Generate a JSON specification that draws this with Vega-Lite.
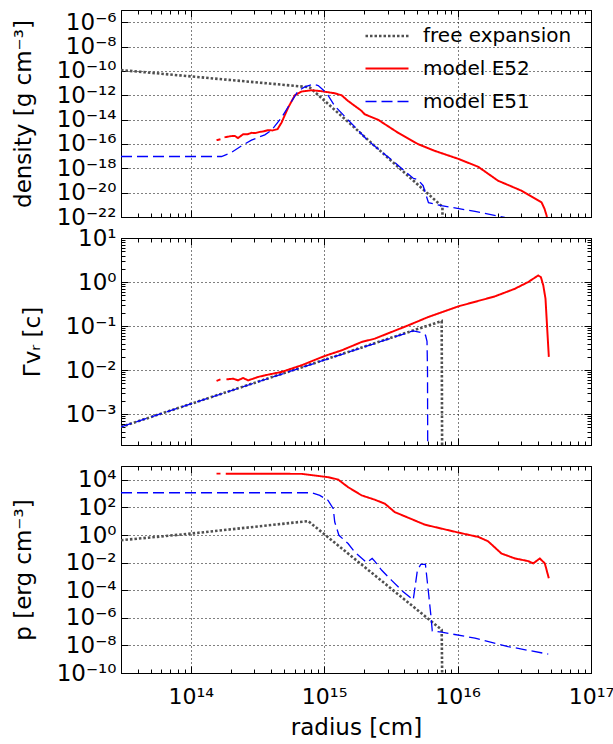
{
  "$schema": "https://vega.github.io/schema/vega-lite/v6.json",
  "background": "white",
  "padding": {"left": 11, "top": 9, "right": 2, "bottom": 0},
  "datasets": {
    "dens": [
      {"s": "free expansion", "g": 1, "r": 3.0e13, "v": 1.17e-10},
      {"s": "free expansion", "g": 1, "r": 7.76e14, "v": 4.57e-12},
      {"s": "free expansion", "g": 1, "r": 7.7e15, "v": 6.9e-22},
      {"s": "free expansion", "g": 1, "r": 7.72e15, "v": 1e-30},
      {"s": "model E52", "g": 1, "r": 1.56e14, "v": 2.04e-16},
      {"s": "model E52", "g": 1, "r": 1.67e14, "v": 2.45e-16},
      {"s": "model E52", "g": 2, "r": 1.79e14, "v": 3.47e-16},
      {"s": "model E52", "g": 2, "r": 1.99e14, "v": 4.37e-16},
      {"s": "model E52", "g": 2, "r": 2.14e14, "v": 4.57e-16},
      {"s": "model E52", "g": 2, "r": 2.26e14, "v": 3.02e-16},
      {"s": "model E52", "g": 2, "r": 2.47e14, "v": 6.31e-16},
      {"s": "model E52", "g": 2, "r": 2.66e14, "v": 6.17e-16},
      {"s": "model E52", "g": 2, "r": 2.85e14, "v": 8.13e-16},
      {"s": "model E52", "g": 2, "r": 3.05e14, "v": 7.76e-16},
      {"s": "model E52", "g": 2, "r": 3.29e14, "v": 9.77e-16},
      {"s": "model E52", "g": 2, "r": 3.51e14, "v": 1.07e-15},
      {"s": "model E52", "g": 2, "r": 3.80e14, "v": 1.35e-15},
      {"s": "model E52", "g": 2, "r": 4.09e14, "v": 1.29e-15},
      {"s": "model E52", "g": 2, "r": 4.47e14, "v": 1.62e-15},
      {"s": "model E52", "g": 2, "r": 4.79e14, "v": 5.62e-15},
      {"s": "model E52", "g": 2, "r": 5.37e14, "v": 9.55e-14},
      {"s": "model E52", "g": 2, "r": 6.03e14, "v": 1.0e-12},
      {"s": "model E52", "g": 2, "r": 6.76e14, "v": 2.0e-12},
      {"s": "model E52", "g": 2, "r": 8.04e14, "v": 2.57e-12},
      {"s": "model E52", "g": 2, "r": 9.55e14, "v": 2.14e-12},
      {"s": "model E52", "g": 2, "r": 1.20e15, "v": 1.45e-12},
      {"s": "model E52", "g": 2, "r": 1.35e15, "v": 1.0e-12},
      {"s": "model E52", "g": 2, "r": 1.51e15, "v": 3.39e-13},
      {"s": "model E52", "g": 2, "r": 1.91e15, "v": 5.13e-14},
      {"s": "model E52", "g": 2, "r": 2.01e15, "v": 2.75e-14},
      {"s": "model E52", "g": 2, "r": 2.54e15, "v": 9.55e-15},
      {"s": "model E52", "g": 2, "r": 3.59e15, "v": 8.13e-16},
      {"s": "model E52", "g": 2, "r": 5.07e15, "v": 9.55e-17},
      {"s": "model E52", "g": 2, "r": 6.75e15, "v": 2.69e-17},
      {"s": "model E52", "g": 2, "r": 1.01e16, "v": 6.03e-18},
      {"s": "model E52", "g": 2, "r": 1.43e16, "v": 1.32e-18},
      {"s": "model E52", "g": 2, "r": 2.01e16, "v": 9.55e-20},
      {"s": "model E52", "g": 2, "r": 3.01e16, "v": 1.45e-20},
      {"s": "model E52", "g": 2, "r": 4.26e16, "v": 1.58e-21},
      {"s": "model E52", "g": 2, "r": 4.48e16, "v": 4.79e-22},
      {"s": "model E52", "g": 2, "r": 4.65e16, "v": 1.29e-22},
      {"s": "model E52", "g": 2, "r": 4.73e16, "v": 3.39e-23},
      {"s": "model E51", "g": 1, "r": 3.0e13, "v": 9.33e-18},
      {"s": "model E51", "g": 1, "r": 1.70e14, "v": 9.33e-18},
      {"s": "model E51", "g": 1, "r": 2.02e14, "v": 2.0e-17},
      {"s": "model E51", "g": 1, "r": 2.40e14, "v": 6.92e-17},
      {"s": "model E51", "g": 1, "r": 2.85e14, "v": 2.04e-16},
      {"s": "model E51", "g": 1, "r": 3.59e14, "v": 5.62e-16},
      {"s": "model E51", "g": 1, "r": 4.03e14, "v": 1.35e-15},
      {"s": "model E51", "g": 1, "r": 4.79e14, "v": 1.45e-14},
      {"s": "model E51", "g": 1, "r": 5.52e14, "v": 1.82e-13},
      {"s": "model E51", "g": 1, "r": 6.38e14, "v": 2.24e-12},
      {"s": "model E51", "g": 1, "r": 7.16e14, "v": 4.79e-12},
      {"s": "model E51", "g": 1, "r": 8.28e14, "v": 7.94e-12},
      {"s": "model E51", "g": 1, "r": 9.02e14, "v": 6.31e-12},
      {"s": "model E51", "g": 1, "r": 9.84e14, "v": 2.69e-12},
      {"s": "model E51", "g": 1, "r": 1.07e15, "v": 9.55e-13},
      {"s": "model E51", "g": 1, "r": 1.20e15, "v": 1.32e-13},
      {"s": "model E51", "g": 1, "r": 1.39e15, "v": 2.45e-14},
      {"s": "model E51", "g": 1, "r": 2.14e15, "v": 1.78e-16},
      {"s": "model E51", "g": 1, "r": 3.38e15, "v": 3.02e-18},
      {"s": "model E51", "g": 1, "r": 4.65e15, "v": 1.51e-19},
      {"s": "model E51", "g": 1, "r": 5.04e15, "v": 1.15e-19},
      {"s": "model E51", "g": 1, "r": 5.52e15, "v": 3.72e-20},
      {"s": "model E51", "g": 1, "r": 6.05e15, "v": 1.48e-21},
      {"s": "model E51", "g": 1, "r": 7.57e15, "v": 8.51e-22},
      {"s": "model E51", "g": 1, "r": 1.35e16, "v": 2.88e-22},
      {"s": "model E51", "g": 1, "r": 2.26e16, "v": 9.33e-23}
    ],
    "vel": [
      {"s": "free expansion", "g": 1, "r": 3.0e13, "v": 5.15e-4},
      {"s": "free expansion", "g": 1, "r": 7.6e15, "v": 0.13},
      {"s": "free expansion", "g": 1, "r": 7.7e15, "v": 1e-6},
      {"s": "model E52", "g": 1, "r": 1.56e14, "v": 5.69e-3},
      {"s": "model E52", "g": 1, "r": 1.67e14, "v": 6.18e-3},
      {"s": "model E52", "g": 2, "r": 1.85e14, "v": 6.18e-3},
      {"s": "model E52", "g": 2, "r": 2.08e14, "v": 6.41e-3},
      {"s": "model E52", "g": 2, "r": 2.26e14, "v": 5.87e-3},
      {"s": "model E52", "g": 2, "r": 2.47e14, "v": 6.65e-3},
      {"s": "model E52", "g": 2, "r": 2.69e14, "v": 5.87e-3},
      {"s": "model E52", "g": 2, "r": 2.94e14, "v": 6.41e-3},
      {"s": "model E52", "g": 2, "r": 3.20e14, "v": 7.01e-3},
      {"s": "model E52", "g": 2, "r": 3.59e14, "v": 7.62e-3},
      {"s": "model E52", "g": 2, "r": 4.03e14, "v": 8.2e-3},
      {"s": "model E52", "g": 2, "r": 4.79e14, "v": 9.1e-3},
      {"s": "model E52", "g": 2, "r": 6.76e14, "v": 1.29e-2},
      {"s": "model E52", "g": 2, "r": 1.01e15, "v": 2.1e-2},
      {"s": "model E52", "g": 2, "r": 1.35e15, "v": 2.81e-2},
      {"s": "model E52", "g": 2, "r": 1.91e15, "v": 4.36e-2},
      {"s": "model E52", "g": 2, "r": 2.39e15, "v": 5.18e-2},
      {"s": "model E52", "g": 2, "r": 4.27e15, "v": 0.104},
      {"s": "model E52", "g": 2, "r": 6.03e15, "v": 0.161},
      {"s": "model E52", "g": 2, "r": 1.01e16, "v": 0.28},
      {"s": "model E52", "g": 2, "r": 1.90e16, "v": 0.472},
      {"s": "model E52", "g": 2, "r": 2.69e16, "v": 0.705},
      {"s": "model E52", "g": 2, "r": 3.38e16, "v": 1.0},
      {"s": "model E52", "g": 2, "r": 4.02e16, "v": 1.41},
      {"s": "model E52", "g": 2, "r": 4.21e16, "v": 1.30},
      {"s": "model E52", "g": 2, "r": 4.39e16, "v": 0.837},
      {"s": "model E52", "g": 2, "r": 4.56e16, "v": 0.418},
      {"s": "model E52", "g": 2, "r": 4.65e16, "v": 0.147},
      {"s": "model E52", "g": 2, "r": 4.83e16, "v": 0.02},
      {"s": "model E51", "g": 1, "r": 3.0e13, "v": 5.15e-4},
      {"s": "model E51", "g": 1, "r": 4.65e15, "v": 0.078},
      {"s": "model E51", "g": 1, "r": 5.36e15, "v": 0.071},
      {"s": "model E51", "g": 1, "r": 5.75e15, "v": 0.062},
      {"s": "model E51", "g": 1, "r": 5.9e15, "v": 0.045},
      {"s": "model E51", "g": 1, "r": 5.95e15, "v": 0.01},
      {"s": "model E51", "g": 1, "r": 6.0e15, "v": 1e-6}
    ],
    "pres": [
      {"s": "free expansion", "g": 1, "r": 3.0e13, "v": 0.417},
      {"s": "free expansion", "g": 1, "r": 1.0e14, "v": 1.26},
      {"s": "free expansion", "g": 1, "r": 7.59e14, "v": 10.2},
      {"s": "free expansion", "g": 1, "r": 7.6e15, "v": 1.35e-7},
      {"s": "free expansion", "g": 1, "r": 7.7e15, "v": 1e-12},
      {"s": "model E52", "g": 1, "r": 1.56e14, "v": 2.8e4},
      {"s": "model E52", "g": 1, "r": 1.67e14, "v": 2.8e4},
      {"s": "model E52", "g": 2, "r": 1.83e14, "v": 2.75e4},
      {"s": "model E52", "g": 2, "r": 6.76e14, "v": 2.69e4},
      {"s": "model E52", "g": 2, "r": 8.51e14, "v": 2.04e4},
      {"s": "model E52", "g": 2, "r": 1.07e15, "v": 1.55e4},
      {"s": "model E52", "g": 2, "r": 1.27e15, "v": 1.05e4},
      {"s": "model E52", "g": 2, "r": 1.51e15, "v": 2.95e3},
      {"s": "model E52", "g": 2, "r": 1.91e15, "v": 741},
      {"s": "model E52", "g": 2, "r": 2.39e15, "v": 363},
      {"s": "model E52", "g": 2, "r": 2.85e15, "v": 186},
      {"s": "model E52", "g": 2, "r": 3.38e15, "v": 45.7},
      {"s": "model E52", "g": 2, "r": 5.68e15, "v": 5.62},
      {"s": "model E52", "g": 2, "r": 1.01e16, "v": 1.51},
      {"s": "model E52", "g": 2, "r": 1.43e16, "v": 0.724},
      {"s": "model E52", "g": 2, "r": 1.69e16, "v": 0.355},
      {"s": "model E52", "g": 2, "r": 2.13e16, "v": 0.0457},
      {"s": "model E52", "g": 2, "r": 2.69e16, "v": 0.02},
      {"s": "model E52", "g": 2, "r": 3.38e16, "v": 0.0129},
      {"s": "model E52", "g": 2, "r": 3.69e16, "v": 8.7e-3},
      {"s": "model E52", "g": 2, "r": 4.13e16, "v": 0.02},
      {"s": "model E52", "g": 2, "r": 4.51e16, "v": 8.7e-3},
      {"s": "model E52", "g": 2, "r": 4.83e16, "v": 7.2e-4},
      {"s": "model E51", "g": 1, "r": 3.0e13, "v": 1150},
      {"s": "model E51", "g": 1, "r": 8.04e14, "v": 1150},
      {"s": "model E51", "g": 1, "r": 9.27e14, "v": 741},
      {"s": "model E51", "g": 1, "r": 1.07e15, "v": 324},
      {"s": "model E51", "g": 1, "r": 1.17e15, "v": 81},
      {"s": "model E51", "g": 1, "r": 1.20e15, "v": 8.7},
      {"s": "model E51", "g": 1, "r": 1.29e15, "v": 0.955},
      {"s": "model E51", "g": 1, "r": 1.51e15, "v": 0.24},
      {"s": "model E51", "g": 1, "r": 1.69e15, "v": 0.06},
      {"s": "model E51", "g": 1, "r": 2.08e15, "v": 0.0102},
      {"s": "model E51", "g": 1, "r": 2.29e15, "v": 0.02},
      {"s": "model E51", "g": 1, "r": 2.39e15, "v": 0.0129},
      {"s": "model E51", "g": 1, "r": 2.69e15, "v": 2.88e-3},
      {"s": "model E51", "g": 1, "r": 3.19e15, "v": 5.37e-4},
      {"s": "model E51", "g": 1, "r": 3.91e15, "v": 7.76e-5},
      {"s": "model E51", "g": 1, "r": 4.65e15, "v": 1.95e-5},
      {"s": "model E51", "g": 1, "r": 5.0e15, "v": 2.88e-3},
      {"s": "model E51", "g": 1, "r": 5.30e15, "v": 7.4e-3},
      {"s": "model E51", "g": 1, "r": 5.74e15, "v": 7.4e-3},
      {"s": "model E51", "g": 1, "r": 6.08e15, "v": 4.47e-5},
      {"s": "model E51", "g": 1, "r": 6.30e15, "v": 1.62e-6},
      {"s": "model E51", "g": 1, "r": 6.46e15, "v": 1.12e-7},
      {"s": "model E51", "g": 1, "r": 7.57e15, "v": 9.1e-8},
      {"s": "model E51", "g": 1, "r": 1.35e16, "v": 3.39e-8},
      {"s": "model E51", "g": 1, "r": 2.39e16, "v": 8.3e-9},
      {"s": "model E51", "g": 1, "r": 4.78e16, "v": 2.34e-9}
    ]
  },
  "vconcat": [
    {
      "width": 470, "height": 207,
      "data": {"name": "dens"},
      "layer": [
        {
          "mark": {"type": "line", "clip": true},
          "encoding": {
            "x": {"field": "r", "type": "quantitative", "scale": {"type": "log", "domain": [3e13, 1e17], "nice": false},
              "axis": {"orient": "bottom", "title": null, "labels": false, "grid": true,
                "values": [4e13,5e13,6e13,7e13,8e13,9e13,1e14,2e14,3e14,4e14,5e14,6e14,7e14,8e14,9e14,1e15,2e15,3e15,4e15,5e15,6e15,7e15,8e15,9e15,1e16,2e16,3e16,4e16,5e16,6e16,7e16,8e16,9e16,1e17],
                "gridOpacity": {"condition": {"test": "abs(log(datum.value)/LN10 - round(log(datum.value)/LN10)) < 1e-6", "value": 1}, "value": 0},
                "tickSize": {"condition": {"test": "abs(log(datum.value)/LN10 - round(log(datum.value)/LN10)) < 1e-6", "value": -7}, "value": -4}}},
            "y": {"field": "v", "type": "quantitative", "scale": {"type": "log", "domain": [1e-22, 1e-5], "nice": false},
              "axis": {"orient": "left", "title": "density [g cm⁻³]", "grid": true, "tickSize": -7, "labelPadding": 12, "titlePadding": 21,
                "values": [1e-22,1e-20,1e-18,1e-16,1e-14,1e-12,1e-10,1e-8,1e-6],
                "labelExpr": "'10' + replace(replace(replace(replace(replace(replace(replace(replace(replace(replace(replace(toString(round(log(datum.value)/LN10)),regexp('-','g'),'⁻'),regexp('0','g'),'⁰'),regexp('1','g'),'¹'),regexp('2','g'),'²'),regexp('3','g'),'³'),regexp('4','g'),'⁴'),regexp('5','g'),'⁵'),regexp('6','g'),'⁶'),regexp('7','g'),'⁷'),regexp('8','g'),'⁸'),regexp('9','g'),'⁹')"}},
            "color": {"field": "s", "type": "nominal",
              "scale": {"domain": ["free expansion", "model E52", "model E51"], "range": ["#505050", "#ff0000", "#0000ff"]},
              "legend": {"orient": "none", "legendX": 243, "legendY": 3, "title": null, "padding": 0, "labelFont": "DejaVu Sans", "labelFontSize": 20, "labelColor": "black", "symbolType": "stroke", "symbolSize": 1849, "labelOffset": 13, "rowPadding": -1}},
            "strokeDash": {"field": "s", "type": "nominal",
              "scale": {"domain": ["free expansion", "model E52", "model E51"], "range": [[2.5, 2], [1, 0], [11, 5]]}},
            "strokeWidth": {"field": "s", "type": "nominal",
              "scale": {"domain": ["free expansion", "model E52", "model E51"], "range": [2.6, 1.3, 1.8]}},
            "detail": {"field": "g", "type": "nominal"}
          }
        },
        {
          "mark": {"type": "line", "clip": true, "opacity": 0},
          "encoding": {
            "x": {"field": "r", "type": "quantitative", "scale": {"type": "log", "domain": [3e13, 1e17], "nice": false},
              "axis": {"orient": "top", "title": null, "labels": false, "grid": false,
                "values": [4e13,5e13,6e13,7e13,8e13,9e13,1e14,2e14,3e14,4e14,5e14,6e14,7e14,8e14,9e14,1e15,2e15,3e15,4e15,5e15,6e15,7e15,8e15,9e15,1e16,2e16,3e16,4e16,5e16,6e16,7e16,8e16,9e16,1e17],
                "tickSize": {"condition": {"test": "abs(log(datum.value)/LN10 - round(log(datum.value)/LN10)) < 1e-6", "value": -7}, "value": -4}}},
            "y": {"field": "v", "type": "quantitative", "scale": {"type": "log", "domain": [1e-22, 1e-5], "nice": false},
              "axis": {"orient": "right", "title": null, "labels": false, "grid": false, "tickSize": -7,
                "values": [1e-22,1e-20,1e-18,1e-16,1e-14,1e-12,1e-10,1e-8,1e-6]}}
          }
        }
      ],
      "resolve": {"axis": {"x": "independent", "y": "independent"}}
    },
    {
      "width": 470, "height": 207,
      "data": {"name": "vel"},
      "layer": [
        {
          "mark": {"type": "line", "clip": true},
          "encoding": {
            "x": {"field": "r", "type": "quantitative", "scale": {"type": "log", "domain": [3e13, 1e17], "nice": false},
              "axis": {"orient": "bottom", "title": null, "labels": false, "grid": true,
                "values": [4e13,5e13,6e13,7e13,8e13,9e13,1e14,2e14,3e14,4e14,5e14,6e14,7e14,8e14,9e14,1e15,2e15,3e15,4e15,5e15,6e15,7e15,8e15,9e15,1e16,2e16,3e16,4e16,5e16,6e16,7e16,8e16,9e16,1e17],
                "gridOpacity": {"condition": {"test": "abs(log(datum.value)/LN10 - round(log(datum.value)/LN10)) < 1e-6", "value": 1}, "value": 0},
                "tickSize": {"condition": {"test": "abs(log(datum.value)/LN10 - round(log(datum.value)/LN10)) < 1e-6", "value": -7}, "value": -4}}},
            "y": {"field": "v", "type": "quantitative", "scale": {"type": "log", "domain": [2e-4, 10], "nice": false},
              "axis": {"orient": "left", "title": "Γvᵣ [c]", "grid": true, "labelPadding": 12, "titlePadding": 21,
                "values": [2e-4,3e-4,4e-4,5e-4,6e-4,7e-4,8e-4,9e-4,1e-3,2e-3,3e-3,4e-3,5e-3,6e-3,7e-3,8e-3,9e-3,1e-2,2e-2,3e-2,4e-2,5e-2,6e-2,7e-2,8e-2,9e-2,0.1,0.2,0.3,0.4,0.5,0.6,0.7,0.8,0.9,1,2,3,4,5,6,7,8,9,10],
                "gridOpacity": {"condition": {"test": "abs(log(datum.value)/LN10 - round(log(datum.value)/LN10)) < 1e-6", "value": 1}, "value": 0},
                "tickSize": {"condition": {"test": "abs(log(datum.value)/LN10 - round(log(datum.value)/LN10)) < 1e-6", "value": -7}, "value": -4},
                "labelExpr": "abs(log(datum.value)/LN10 - round(log(datum.value)/LN10)) > 1e-6 ? '' : '10' + replace(replace(replace(replace(replace(replace(replace(replace(replace(replace(replace(toString(round(log(datum.value)/LN10)),regexp('-','g'),'⁻'),regexp('0','g'),'⁰'),regexp('1','g'),'¹'),regexp('2','g'),'²'),regexp('3','g'),'³'),regexp('4','g'),'⁴'),regexp('5','g'),'⁵'),regexp('6','g'),'⁶'),regexp('7','g'),'⁷'),regexp('8','g'),'⁸'),regexp('9','g'),'⁹')"}},
            "color": {"field": "s", "type": "nominal",
              "scale": {"domain": ["free expansion", "model E52", "model E51"], "range": ["#505050", "#ff0000", "#0000ff"]}, "legend": null},
            "strokeDash": {"field": "s", "type": "nominal",
              "scale": {"domain": ["free expansion", "model E52", "model E51"], "range": [[2.5, 2], [1, 0], [11, 5]]}, "legend": null},
            "strokeWidth": {"field": "s", "type": "nominal",
              "scale": {"domain": ["free expansion", "model E52", "model E51"], "range": [2.6, 1.3, 1.8]}, "legend": null},
            "detail": {"field": "g", "type": "nominal"}
          }
        },
        {
          "mark": {"type": "line", "clip": true, "opacity": 0},
          "encoding": {
            "x": {"field": "r", "type": "quantitative", "scale": {"type": "log", "domain": [3e13, 1e17], "nice": false},
              "axis": {"orient": "top", "title": null, "labels": false, "grid": false,
                "values": [4e13,5e13,6e13,7e13,8e13,9e13,1e14,2e14,3e14,4e14,5e14,6e14,7e14,8e14,9e14,1e15,2e15,3e15,4e15,5e15,6e15,7e15,8e15,9e15,1e16,2e16,3e16,4e16,5e16,6e16,7e16,8e16,9e16,1e17],
                "tickSize": {"condition": {"test": "abs(log(datum.value)/LN10 - round(log(datum.value)/LN10)) < 1e-6", "value": -7}, "value": -4}}},
            "y": {"field": "v", "type": "quantitative", "scale": {"type": "log", "domain": [2e-4, 10], "nice": false},
              "axis": {"orient": "right", "title": null, "labels": false, "grid": false,
                "values": [2e-4,3e-4,4e-4,5e-4,6e-4,7e-4,8e-4,9e-4,1e-3,2e-3,3e-3,4e-3,5e-3,6e-3,7e-3,8e-3,9e-3,1e-2,2e-2,3e-2,4e-2,5e-2,6e-2,7e-2,8e-2,9e-2,0.1,0.2,0.3,0.4,0.5,0.6,0.7,0.8,0.9,1,2,3,4,5,6,7,8,9,10],
                "tickSize": {"condition": {"test": "abs(log(datum.value)/LN10 - round(log(datum.value)/LN10)) < 1e-6", "value": -7}, "value": -4}}}
          }
        }
      ],
      "resolve": {"axis": {"x": "independent", "y": "independent"}}
    },
    {
      "width": 470, "height": 207,
      "data": {"name": "pres"},
      "layer": [
        {
          "mark": {"type": "line", "clip": true},
          "encoding": {
            "x": {"field": "r", "type": "quantitative", "scale": {"type": "log", "domain": [3e13, 1e17], "nice": false},
              "axis": {"orient": "bottom", "title": "radius [cm]", "grid": true, "labelPadding": 20, "titlePadding": 6, "labelFontSize": 22,
                "values": [4e13,5e13,6e13,7e13,8e13,9e13,1e14,2e14,3e14,4e14,5e14,6e14,7e14,8e14,9e14,1e15,2e15,3e15,4e15,5e15,6e15,7e15,8e15,9e15,1e16,2e16,3e16,4e16,5e16,6e16,7e16,8e16,9e16,1e17],
                "gridOpacity": {"condition": {"test": "abs(log(datum.value)/LN10 - round(log(datum.value)/LN10)) < 1e-6", "value": 1}, "value": 0},
                "tickSize": {"condition": {"test": "abs(log(datum.value)/LN10 - round(log(datum.value)/LN10)) < 1e-6", "value": -7}, "value": -4},
                "labelExpr": "abs(log(datum.value)/LN10 - round(log(datum.value)/LN10)) > 1e-6 ? '' : '10' + replace(replace(replace(replace(replace(replace(replace(replace(replace(replace(replace(toString(round(log(datum.value)/LN10)),regexp('-','g'),'⁻'),regexp('0','g'),'⁰'),regexp('1','g'),'¹'),regexp('2','g'),'²'),regexp('3','g'),'³'),regexp('4','g'),'⁴'),regexp('5','g'),'⁵'),regexp('6','g'),'⁶'),regexp('7','g'),'⁷'),regexp('8','g'),'⁸'),regexp('9','g'),'⁹')"}},
            "y": {"field": "v", "type": "quantitative", "scale": {"type": "log", "domain": [1e-10, 1e5], "nice": false},
              "axis": {"orient": "left", "title": "p [erg cm⁻³]", "grid": true, "tickSize": -7, "labelPadding": 12, "titlePadding": 21,
                "values": [1e-10,1e-8,1e-6,1e-4,1e-2,1,100,1e4],
                "labelExpr": "'10' + replace(replace(replace(replace(replace(replace(replace(replace(replace(replace(replace(toString(round(log(datum.value)/LN10)),regexp('-','g'),'⁻'),regexp('0','g'),'⁰'),regexp('1','g'),'¹'),regexp('2','g'),'²'),regexp('3','g'),'³'),regexp('4','g'),'⁴'),regexp('5','g'),'⁵'),regexp('6','g'),'⁶'),regexp('7','g'),'⁷'),regexp('8','g'),'⁸'),regexp('9','g'),'⁹')"}},
            "color": {"field": "s", "type": "nominal",
              "scale": {"domain": ["free expansion", "model E52", "model E51"], "range": ["#505050", "#ff0000", "#0000ff"]}, "legend": null},
            "strokeDash": {"field": "s", "type": "nominal",
              "scale": {"domain": ["free expansion", "model E52", "model E51"], "range": [[2.5, 2], [1, 0], [11, 5]]}, "legend": null},
            "strokeWidth": {"field": "s", "type": "nominal",
              "scale": {"domain": ["free expansion", "model E52", "model E51"], "range": [2.6, 1.3, 1.8]}, "legend": null},
            "detail": {"field": "g", "type": "nominal"}
          }
        },
        {
          "mark": {"type": "line", "clip": true, "opacity": 0},
          "encoding": {
            "x": {"field": "r", "type": "quantitative", "scale": {"type": "log", "domain": [3e13, 1e17], "nice": false},
              "axis": {"orient": "top", "title": null, "labels": false, "grid": false,
                "values": [4e13,5e13,6e13,7e13,8e13,9e13,1e14,2e14,3e14,4e14,5e14,6e14,7e14,8e14,9e14,1e15,2e15,3e15,4e15,5e15,6e15,7e15,8e15,9e15,1e16,2e16,3e16,4e16,5e16,6e16,7e16,8e16,9e16,1e17],
                "tickSize": {"condition": {"test": "abs(log(datum.value)/LN10 - round(log(datum.value)/LN10)) < 1e-6", "value": -7}, "value": -4}}},
            "y": {"field": "v", "type": "quantitative", "scale": {"type": "log", "domain": [1e-10, 1e5], "nice": false},
              "axis": {"orient": "right", "title": null, "labels": false, "grid": false, "tickSize": -7,
                "values": [1e-10,1e-8,1e-6,1e-4,1e-2,1,100,1e4]}}
          }
        }
      ],
      "resolve": {"axis": {"x": "independent", "y": "independent"}}
    }
  ],
  "spacing": 21,
  "bounds": "flush",
  "resolve": {"legend": {"color": "independent", "strokeDash": "independent", "strokeWidth": "independent"}},
  "config": {
    "view": {"stroke": "black", "strokeWidth": 1},
    "axis": {
      "labelFont": "DejaVu Sans", "titleFont": "DejaVu Sans", "labelFontSize": 23, "titleFontSize": 23,
      "titleFontWeight": "normal", "labelColor": "black", "titleColor": "black",
      "domainColor": "black", "domainWidth": 1, "tickColor": "black", "tickWidth": 1,
      "gridColor": "black", "gridDash": [1, 3], "gridWidth": 1,
      "labelOverlap": false, "labelFlush": false
    }
  }
}
